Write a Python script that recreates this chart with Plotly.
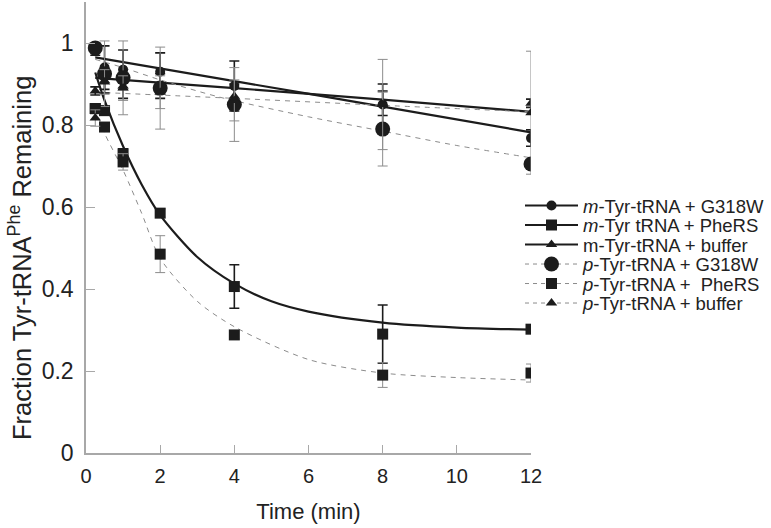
import plotly.graph_objects as go

# ---------------- data ----------------
time = [0.25, 0.5, 1, 2, 4, 8, 12]

m_g318w = [0.98, 0.94, 0.935, 0.93, 0.895, 0.85, 0.768]
m_g318w_err = [0.01, 0.053, 0.048, 0.046, 0.061, 0.05, 0.02]
m_pheRS = [0.84, 0.835, 0.73, 0.585, 0.406, 0.29, 0.302]
m_pheRS_err = [0.01, 0.01, 0.012, 0.01, 0.053, 0.071, 0.005]
m_buffer = [0.883, 0.908, 0.895, 0.895, 0.87, 0.853, 0.853]
m_buffer_err = [0.01, 0.03, 0.03, 0.03, 0.03, 0.03, 0.01]

p_g318w = [0.988, 0.925, 0.915, 0.89, 0.85, 0.79, 0.705]
p_g318w_err = [0.01, 0.08, 0.09, 0.10, 0.09, 0.09, 0.01]
p_pheRS = [0.84, 0.795, 0.71, 0.485, 0.288, 0.19, 0.195]
p_pheRS_err = [0.01, 0.01, 0.02, 0.045, 0.01, 0.03, 0.022]
p_buffer = [0.817, 0.905, 0.89, 0.88, 0.86, 0.85, 0.83]
p_buffer_err = [0.02, 0.03, 0.03, 0.04, 0.05, 0.11, 0.15]

# fitted curves
fit_m_g318w_x = [0.25, 4, 8, 12]
fit_m_g318w_y = [0.965, 0.907, 0.845, 0.782]
fit_m_pheRS_x = [0.25, 0.5, 1, 1.5, 2, 3, 4, 5, 6, 8, 10, 12]
fit_m_pheRS_y = [0.928, 0.86, 0.748, 0.655, 0.58, 0.478, 0.413, 0.37, 0.345, 0.318, 0.306, 0.301]
fit_m_buffer_x = [0.25, 4, 8, 12]
fit_m_buffer_y = [0.915, 0.89, 0.862, 0.832]

fit_p_g318w_x = [0.25, 1, 2, 3.6, 6, 8, 10, 12]
fit_p_g318w_y = [0.96, 0.94, 0.91, 0.868, 0.82, 0.785, 0.75, 0.72]
fit_p_pheRS_x = [0.25, 0.5, 1, 1.5, 2, 3, 4, 6, 8, 10, 12]
fit_p_pheRS_y = [0.84, 0.78, 0.69, 0.585, 0.475, 0.37, 0.308, 0.228, 0.195, 0.184, 0.178]
fit_p_buffer_x = [0.25, 4, 8, 12]
fit_p_buffer_y = [0.88, 0.865, 0.848, 0.832]

legend_labels = [
    "<i>m</i>-Tyr-tRNA + G318W",
    "<i>m</i>-Tyr tRNA + PheRS",
    "m-Tyr-tRNA + buffer",
    "<i>p</i>-Tyr-tRNA + G318W",
    "<i>p</i>-Tyr-tRNA +\u00a0 PheRS",
    "<i>p</i>-Tyr-tRNA + buffer",
]

x_ticks = [0, 2, 4, 6, 8, 10, 12]
y_ticks = [0, 0.2, 0.4, 0.6, 0.8, 1]

# ---------------- styling ----------------
FONT = "Liberation Sans, Arial, sans-serif"
BLACK = "#1c1c1c"
GRAY = "#8c8c8c"
AXIS = "#a8a8a8"
TEXT = "#222222"

series = [
    # values, err, fit x, fit y, symbol, size, solid?
    (m_g318w, m_g318w_err, fit_m_g318w_x, fit_m_g318w_y, "circle", 10, True),
    (m_pheRS, m_pheRS_err, fit_m_pheRS_x, fit_m_pheRS_y, "square", 11, True),
    (m_buffer, m_buffer_err, fit_m_buffer_x, fit_m_buffer_y, "triangle-up", 10, True),
    (p_g318w, p_g318w_err, fit_p_g318w_x, fit_p_g318w_y, "circle", 15, False),
    (p_pheRS, p_pheRS_err, fit_p_pheRS_x, fit_p_pheRS_y, "square", 11, False),
    (p_buffer, p_buffer_err, fit_p_buffer_x, fit_p_buffer_y, "triangle-up", 10, False),
]

fig = go.Figure()

# fit lines first (underneath)
for vals, err, fx, fy, sym, size, solid in series:
    fig.add_trace(go.Scatter(
        x=fx, y=fy, mode="lines", showlegend=False, hoverinfo="skip",
        line=dict(color=BLACK if solid else GRAY, width=2.2 if solid else 1,
                  dash="solid" if solid else "5px,5px", shape="spline", smoothing=0.8),
    ))

# markers with error bars
for vals, err, fx, fy, sym, size, solid in series:
    fig.add_trace(go.Scatter(
        x=time, y=vals, mode="markers", showlegend=False,
        marker=dict(symbol=sym, size=size, color=BLACK, line=dict(width=0)),
        error_y=dict(type="data", array=err, visible=True,
                     color=BLACK if solid else GRAY,
                     thickness=1.6 if solid else 1, width=5),
    ))

# legend entries: one legend per row for exact row spacing
PLOT_LEFT, PLOT_RIGHT = 86, 531
PLOT_TOP, PLOT_BOTTOM = 2, 453          # plot area, in pixels
row_centers = [206, 225.5, 245, 264.5, 284, 303.5]
legend_layout = {}
for i, ((vals, err, fx, fy, sym, size, solid), label) in enumerate(zip(series, legend_labels)):
    lname = "legend" if i == 0 else f"legend{i + 1}"
    fig.add_trace(go.Scatter(
        x=[None], y=[None], mode="lines+markers", name=label, legend=lname,
        marker=dict(symbol=sym, size=size, color=BLACK, line=dict(width=0)),
        line=dict(color=BLACK if solid else GRAY, width=2 if solid else 1,
                  dash="solid" if solid else "4px,4px"),
    ))
    legend_layout[lname] = dict(
        x=(520 - PLOT_LEFT) / (PLOT_RIGHT - PLOT_LEFT),
        y=(PLOT_BOTTOM - row_centers[i]) / (PLOT_BOTTOM - PLOT_TOP),
        xanchor="left", yanchor="middle",
        bgcolor="rgba(0,0,0,0)", font=dict(size=18.5, family=FONT, color=TEXT),
        itemwidth=53, borderwidth=0,
    )

fig.update_layout(
    width=771, height=528,
    margin=dict(l=PLOT_LEFT, r=771 - PLOT_RIGHT, t=PLOT_TOP, b=528 - PLOT_BOTTOM,
                autoexpand=False),
    paper_bgcolor="white", plot_bgcolor="white",
    font=dict(family=FONT, color=TEXT, size=18),
    xaxis=dict(range=[0, 12], tickvals=x_ticks, ticktext=[str(v) for v in x_ticks],
               showgrid=False, zeroline=False, showline=True, linecolor=AXIS, linewidth=1.5,
               ticks="inside", ticklen=8, tickcolor=AXIS, tickwidth=1.2,
               tickfont=dict(size=20, family=FONT), ticklabelstandoff=4,
               title=dict(text="Time (min)", font=dict(size=22, family=FONT), standoff=18)),
    yaxis=dict(range=[0, 1.1], tickvals=y_ticks, ticktext=["0", "0.2", "0.4", "0.6", "0.8", "1"],
               showgrid=False, zeroline=False, showline=True, linecolor=AXIS, linewidth=1.5,
               ticks="inside", ticklen=9, tickcolor=AXIS, tickwidth=1.2,
               tickfont=dict(size=23, family=FONT), ticklabelstandoff=6),
    annotations=[dict(
        text="Fraction Tyr-tRNA<sup>Phe</sup> Remaining", textangle=-90,
        xref="paper", yref="paper",
        x=(20 - PLOT_LEFT) / (PLOT_RIGHT - PLOT_LEFT),
        y=(PLOT_BOTTOM - 258) / (PLOT_BOTTOM - PLOT_TOP),
        xanchor="center", yanchor="middle", showarrow=False,
        font=dict(size=25.5, family=FONT, color=TEXT),
    )],
    **legend_layout,
)

fig.write_html("out.html", config={"displayModeBar": False},
               post_script="document.body.style.margin='0';")
